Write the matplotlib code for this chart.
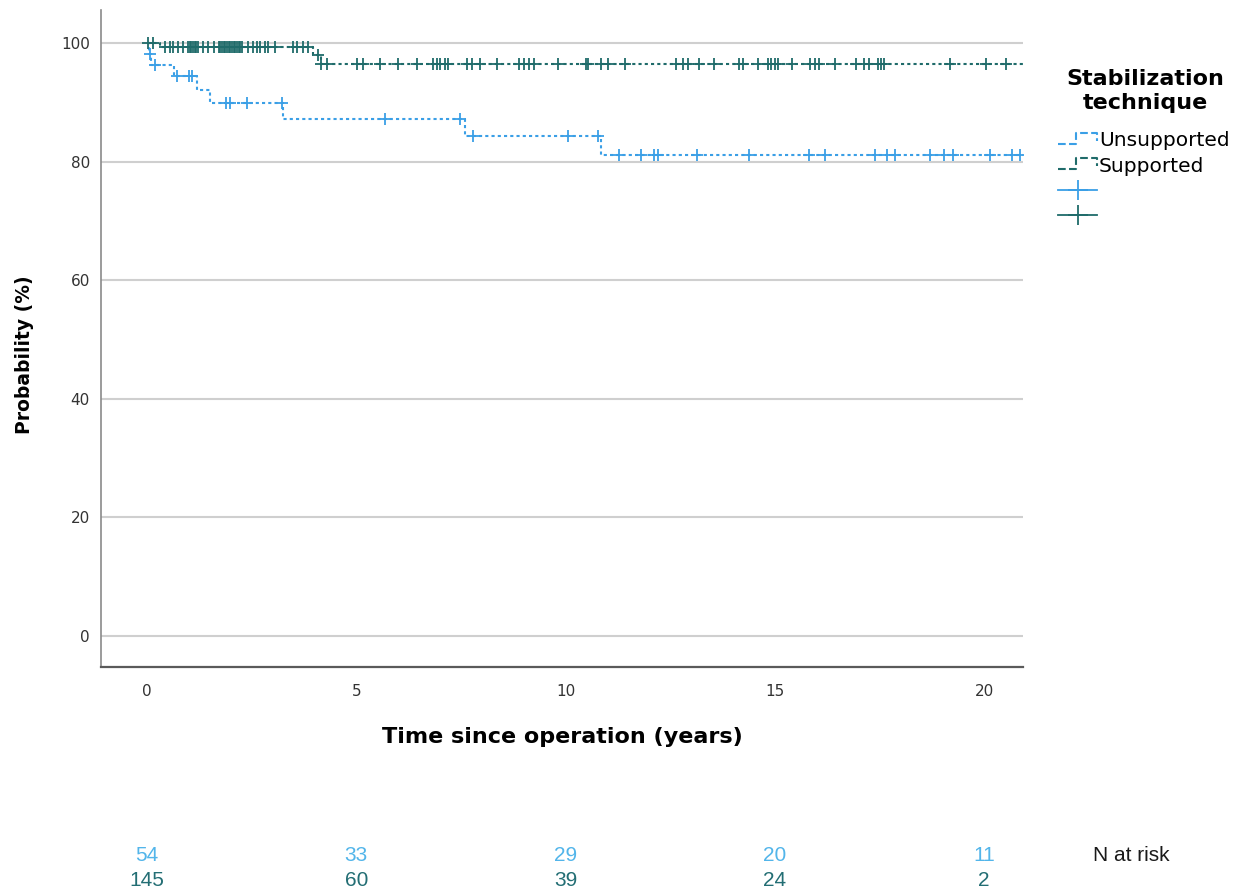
import numpy as np
import matplotlib
matplotlib.use("Agg")
import matplotlib.pyplot as plt
from matplotlib.lines import Line2D
from matplotlib.legend_handler import HandlerBase
from matplotlib import transforms

plt.rcParams['font.family'] = ['DejaVu Sans']

# Kaplan-Meier steps (time in years, survival in %)
unsup_t = [0, 0.05, 0.10, 0.65, 1.20, 1.50, 3.25, 7.60, 10.85]
unsup_s = [100, 98.1, 96.3, 94.4, 92.1, 89.8, 87.1, 84.3, 81.1]
unsup_cens = [0.07, 0.20, 0.71, 1.00, 1.08, 1.90, 1.98, 2.38, 3.22, 5.69, 7.48,
              7.80, 10.07, 10.78, 11.27, 11.80, 12.12, 12.20, 13.13, 14.39,
              15.81, 16.21, 17.39, 17.67, 17.87, 18.72, 19.05, 19.25, 20.14,
              20.66, 20.86]

sup_t = [0, 0.30, 3.97, 4.15]
sup_s = [100, 99.3, 97.9, 96.4]
sup_cens = [0.03, 0.15, 0.43, 0.55, 0.63, 0.75, 0.87, 0.98, 1.02, 1.06, 1.10,
            1.14, 1.18, 1.22, 1.35, 1.47, 1.59, 1.71, 1.75, 1.79, 1.83, 1.87,
            1.91, 1.95, 1.99, 2.03, 2.07, 2.11, 2.15, 2.19, 2.23, 2.27, 2.42,
            2.54, 2.62, 2.70, 2.82, 2.90, 3.06, 3.50, 3.58, 3.74, 3.85, 4.09,
            4.17, 4.29, 5.01, 5.17, 5.57, 6.00, 6.44, 6.84, 6.92, 7.00, 7.12,
            7.20, 7.64, 7.76, 7.96, 8.36, 8.88, 9.00, 9.12, 9.24, 9.81, 10.50,
            10.54, 10.86, 11.02, 11.42, 12.65, 12.81, 12.93, 13.19, 13.54,
            14.14, 14.24, 14.60, 14.85, 14.92, 15.00, 15.08, 15.40, 15.84,
            15.95, 16.05, 16.43, 16.93, 17.12, 17.26, 17.47, 17.53, 17.60,
            19.19, 20.05, 20.52]

risk_times = [0, 5, 10, 15, 20]
risk_unsup = [54, 33, 29, 20, 11]
risk_sup = [145, 60, 39, 24, 2]

c_unsup = '#3A9FE6'
c_sup = '#1F6B6A'
c_risk_unsup = '#52B5EA'
c_risk_sup = '#236E74'


class StepHandler(HandlerBase):
    def create_artists(self, legend, orig_handle, xdescent, ydescent,
                       width, height, fontsize, trans):
        x0 = -xdescent
        xs = [x0, x0 + 0.45 * width, x0 + 0.45 * width, x0 + width, x0 + width]
        ys = [0.15 * height, 0.15 * height, 0.95 * height, 0.95 * height, 0.4 * height]
        ln = Line2D(xs, ys, color=orig_handle.get_color(),
                    linestyle=orig_handle.get_linestyle(),
                    linewidth=orig_handle.get_linewidth())
        ln.set_transform(trans)
        return [ln]


def surv_at(ts, ss, x):
    idx = np.searchsorted(ts, x, side='right') - 1
    return np.asarray(ss)[idx]


fig = plt.figure(figsize=(12.46, 8.92), dpi=100)
ax = fig.add_axes([0.081, 0.252, 0.740, 0.737])

dash = (0, (1.5, 1.5))
for ts, ss, cens, col in [(unsup_t, unsup_s, unsup_cens, c_unsup),
                          (sup_t, sup_s, sup_cens, c_sup)]:
    ax.plot(list(ts) + [21.5], list(ss) + [ss[-1]], drawstyle='steps-post',
            color=col, lw=1.5, ls=dash, zorder=3)
    ax.plot(cens, surv_at(ts, ss, cens), ls='none', marker='+',
            ms=9, mew=1.3, color=col, zorder=4)

ax.set_xlim(-1.1, 20.93)
ax.set_ylim(-5.3, 105.6)
ax.set_xticks(risk_times)
ax.set_yticks([0, 20, 40, 60, 80, 100])
ax.yaxis.grid(True, color='#CFCFCF', lw=1.5)
ax.set_axisbelow(True)
ax.tick_params(length=0, labelsize=11, colors='#333333')
ax.tick_params(axis='x', pad=12)
ax.tick_params(axis='y', pad=8)
for s in ['top', 'right']:
    ax.spines[s].set_visible(False)
ax.spines['left'].set_color('#8A8A8A')
ax.spines['left'].set_linewidth(1.2)
ax.spines['bottom'].set_color('#5A5A5A')
ax.spines['bottom'].set_linewidth(1.6)

ax.set_xlabel('Time since operation (years)', fontsize=16, fontweight='bold',
              labelpad=20)
ax.set_ylabel('Probability (%)', fontsize=13.5, fontweight='bold')
ax.yaxis.set_label_coords(-0.073, 0.475)

# legend title drawn on its own so the gap to the entries can match
fig.text(0.919, 0.8985, 'Stabilization\ntechnique', ha='center', va='center',
         fontsize=16, fontweight='bold', linespacing=1.25)

h_unsup = Line2D([], [], color=c_unsup, lw=1.5, ls=dash)
h_sup = Line2D([], [], color=c_sup, lw=1.5, ls=dash)
m_unsup = Line2D([], [], color=c_unsup, lw=1.3, marker='+', ms=14, mew=1.3)
m_sup = Line2D([], [], color=c_sup, lw=1.3, marker='+', ms=14, mew=1.3)
leg = fig.legend([h_unsup, h_sup, m_unsup, m_sup],
                 ['Unsupported', 'Supported', '', ''],
                 handler_map={h_unsup: StepHandler(), h_sup: StepHandler()},
                 frameon=False, loc='upper left', bbox_to_anchor=(0.843, 0.862),
                 fontsize=14.5, handlelength=1.9, handletextpad=0.12,
                 labelspacing=0.32, borderaxespad=0)

tr = transforms.blended_transform_factory(ax.transData, fig.transFigure)
risk_font = ['Liberation Sans Narrow', 'Liberation Sans', 'DejaVu Sans']
for x, a, b in zip(risk_times, risk_unsup, risk_sup):
    ax.text(x, 0.041, str(a), transform=tr, ha='center', va='center',
            fontsize=15, color=c_risk_unsup, family=risk_font)
    ax.text(x, 0.013, str(b), transform=tr, ha='center', va='center',
            fontsize=15, color=c_risk_sup, family=risk_font)
fig.text(0.908, 0.041, 'N at risk', ha='center', va='center', fontsize=15,
         color='#1A1A1A', family=risk_font)

fig.savefig('out.png', dpi=100)
